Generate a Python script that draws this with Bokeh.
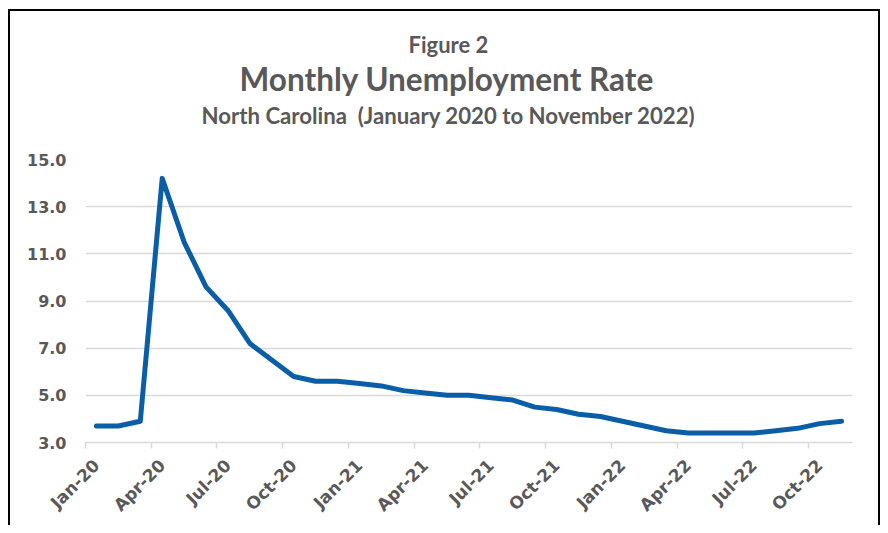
import math
from bokeh.plotting import figure
from bokeh.models import Range1d, FixedTicker, NumeralTickFormatter, Title, LinearAxis
from bokeh.embed import file_html
from bokeh.resources import INLINE

# ---- data ----
months = list(range(35))  # Jan 2020 .. Nov 2022
rate = [3.7, 3.7, 3.9, 14.2, 11.5, 9.6, 8.6, 7.2, 6.5, 5.8, 5.6, 5.6,
        5.5, 5.4, 5.2, 5.1, 5.0, 5.0, 4.9, 4.8, 4.5, 4.4, 4.2, 4.1,
        3.9, 3.7, 3.5, 3.4, 3.4, 3.4, 3.4, 3.5, 3.6, 3.8, 3.9]
tick_labels = ["Jan-20", "Apr-20", "Jul-20", "Oct-20", "Jan-21", "Apr-21",
               "Jul-21", "Oct-21", "Jan-22", "Apr-22", "Jul-22", "Oct-22"]
y_ticks = [3, 5, 7, 9, 11, 13, 15]
fig_label = "Figure 2"
title_text = "Monthly Unemployment Rate"
subtitle_text = "North Carolina\u00a0\u00a0(January 2020 to November 2022)"

GRAY = "#595959"
GRID = "#d9d9d9"
LINE = "#0a5ea8"

p = figure(width=880, height=525, output_backend="svg", toolbar_location=None,
           x_range=Range1d(-0.5, 34.5), y_range=Range1d(3, 15),
           min_border_left=85, min_border_right=28, min_border_top=159,
           min_border_bottom=81)
frame_css = ("linear-gradient(#000,#000) left 8px top 9px / 2px 100% no-repeat, "
             "linear-gradient(#000,#000) left 8px top 9px / calc(100% - 8px) 2px no-repeat, "
             "linear-gradient(#000,#000) right 0px top 9px / 2px 100% no-repeat, #ffffff")
p.styles = {"background": frame_css}
p.outline_line_color = None
p.background_fill_color = None
p.border_fill_color = None

p.line(months, rate, line_color=LINE, line_width=5, line_join="round", line_cap="round")

# x axis
major = [3 * k for k in range(len(tick_labels))]
minor = [3 * k - 0.5 for k in range(len(tick_labels))]
xa = p.xaxis[0]
xa.ticker = FixedTicker(ticks=major, minor_ticks=minor)
xa.major_label_overrides = {m: t for m, t in zip(major, tick_labels)}
xa.major_tick_line_color = None
xa.major_tick_out = 0
xa.major_tick_in = 0
xa.minor_tick_line_color = GRID
xa.minor_tick_line_width = 1.5
xa.minor_tick_out = 6
xa.minor_tick_in = 0
xa.axis_line_color = GRID
xa.axis_line_width = 1.5
xa.major_label_orientation = math.pi / 4
xa.major_label_text_font = "DejaVu Sans"
xa.major_label_text_font_style = "bold"
xa.major_label_text_font_size = "17px"
xa.major_label_text_color = GRAY
xa.major_label_standoff = 14

# y axis
ya = p.yaxis[0]
ya.ticker = FixedTicker(ticks=y_ticks)
ya.formatter = NumeralTickFormatter(format="0.0")
ya.axis_line_color = None
ya.major_tick_line_color = None
ya.minor_tick_line_color = None
ya.major_tick_out = 0
ya.major_label_text_font = "DejaVu Sans"
ya.major_label_text_font_style = "bold"
ya.major_label_text_font_size = "16px"
ya.major_label_text_color = GRAY
ya.major_label_standoff = 19

p.xgrid.grid_line_color = None
p.ygrid.grid_line_color = GRID
p.ygrid.grid_line_width = 1.5
p.ygrid.ticker = FixedTicker(ticks=y_ticks)

# invisible spacer between plot area and subtitle (white tick on white at the right edge)
spacer = LinearAxis(ticker=FixedTicker(ticks=[34.5]), axis_line_color=None,
                    major_tick_line_color="#ffffff", minor_tick_line_color=None,
                    major_tick_out=29, minor_tick_out=0, major_tick_in=0,
                    minor_tick_in=0, major_label_standoff=0,
                    major_label_text_font_size="1px", major_label_text_alpha=0,
                    major_label_overrides={34.5: ""})
p.add_layout(spacer, "above")

# titles: first added sits closest to the plot
for txt, size, stand, off in [(subtitle_text, "22.2px", 2.4, 116),
                              (title_text, "31.5px", 2.4, 154),
                              (fig_label, "22px", 0, 323)]:
    p.add_layout(Title(text=txt, align="left", text_font="Lato",
                       text_font_style="bold", text_font_size=size,
                       text_color=GRAY, standoff=stand, offset=off), "above")

open("out.html", "w").write(file_html(p, INLINE))
